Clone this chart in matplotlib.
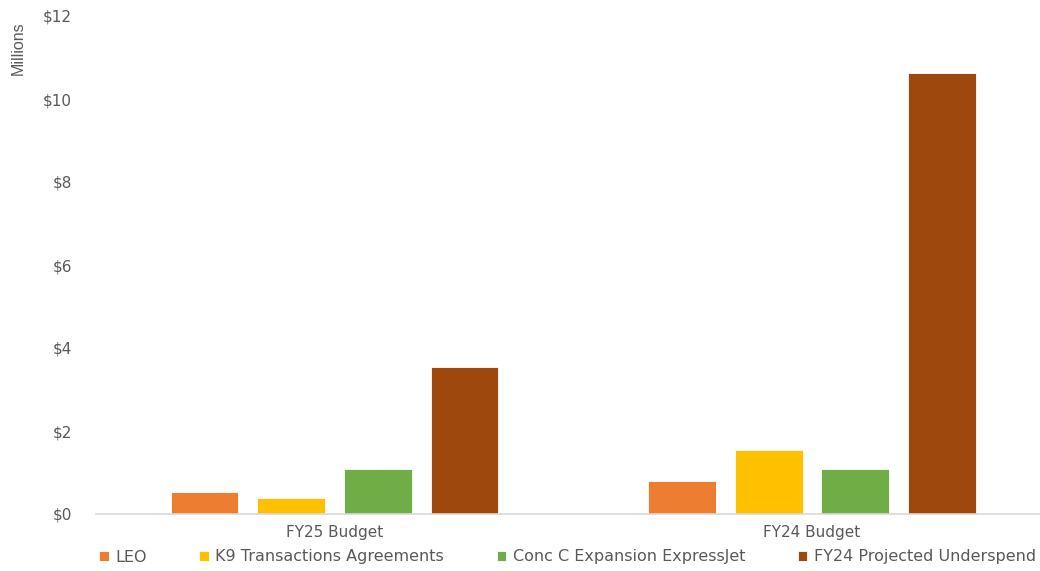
import matplotlib
matplotlib.use("Agg")
import matplotlib.pyplot as plt
import numpy as np

categories = ["FY25 Budget", "FY24 Budget"]
series_names = ["LEO", "K9 Transactions Agreements", "Conc C Expansion ExpressJet", "FY24 Projected Underspend"]
leo = [0.52, 0.80]
k9 = [0.38, 1.55]
conc_c = [1.08, 1.08]
underspend = [3.55, 10.62]
y_ticks = [0, 2, 4, 6, 8, 10, 12]
y_tick_labels = ["$0", "$2", "$4", "$6", "$8", "$10", "$12"]

colors = ["#ED7D31", "#FFC000", "#70AD47", "#9E480E"]
series = [leo, k9, conc_c, underspend]

plt.rcParams['font.family'] = ['DejaVu Sans']
W, H = 1040, 571
fig = plt.figure(figsize=(W / 100, H / 100), dpi=100)
left, right, top, bottom = 95.75, 1050.75, 16, 514
ax = fig.add_axes([left / W, 1 - bottom / H, (right - left) / W, (bottom - top) / H])

x = np.arange(len(categories))
step = 0.1815
width = 0.1424
for i, (vals, c, name) in enumerate(zip(series, colors, series_names)):
    ax.bar(x + (i - 1.5) * step, vals, width=width, color=c, label=name,
           edgecolor="white", linewidth=0.6, zorder=2)

ax.set_xlim(-0.5, 1.5)
ax.set_ylim(0, 12)
ax.set_yticks(y_ticks)
ax.set_yticklabels(y_tick_labels)
ax.set_xticks(x)
ax.set_xticklabels(categories)
ax.tick_params(axis='both', length=0, colors="#595959", labelsize=11)
ax.tick_params(axis='y', pad=17)
ax.tick_params(axis='x', pad=8)
for s in ["top", "right", "left"]:
    ax.spines[s].set_visible(False)
ax.spines["bottom"].set_color("#d9d9d9")
ax.spines["bottom"].set_linewidth(1.2)

fig.text(18 / W, 1 - 48 / H, "Millions", rotation=90, ha="center", va="center",
         fontsize=11.5, color="#595959", family="Liberation Sans")

leg = fig.legend(loc="center", bbox_to_anchor=(567.5 / W, 1 - 557 / H), ncol=4, frameon=False,
                 fontsize=11.5, handlelength=0.6, handleheight=0.6, handletextpad=0.4,
                 columnspacing=3.3, labelcolor="#595959")

fig.savefig("out.png", dpi=100)
